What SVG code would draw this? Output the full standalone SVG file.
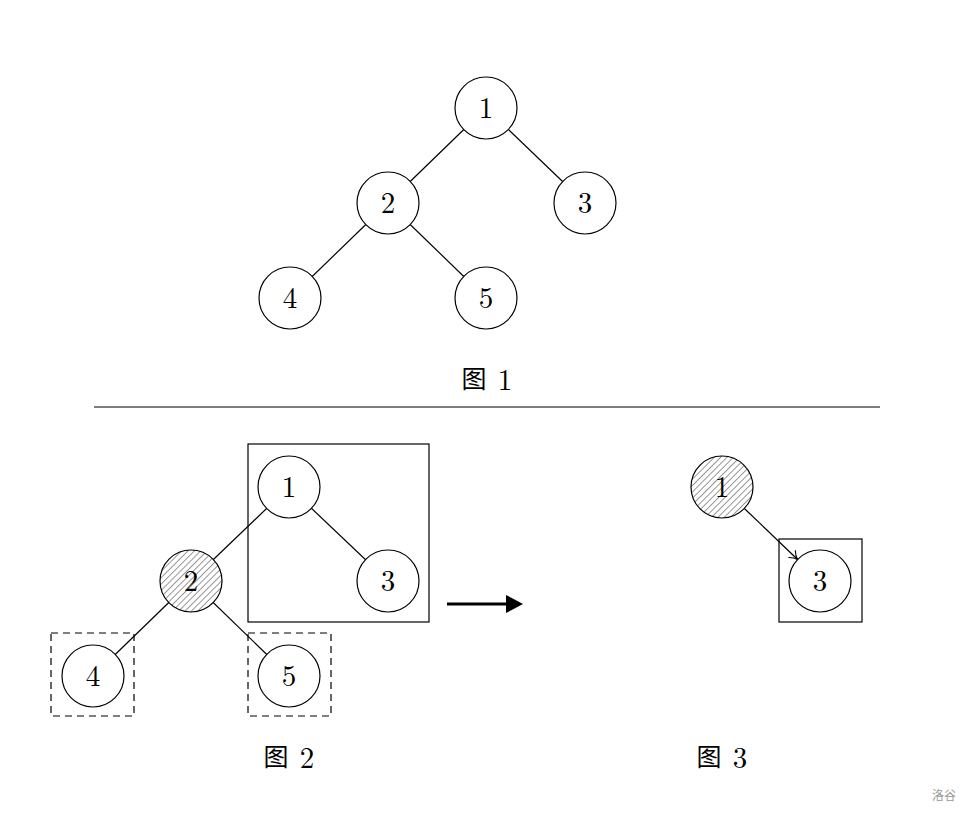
<svg xmlns="http://www.w3.org/2000/svg" width="973" height="816" viewBox="0 0 973 816">
<style>
.n{fill:#fff;stroke:#000;stroke-width:1.2}
.h{fill:url(#hatch);stroke:#000;stroke-width:1.2}
.t{font-family:"Latin Modern Roman","DejaVu Serif","Liberation Serif",serif;font-size:29px;text-anchor:middle;fill:#000}
.c{font-family:"Noto Sans CJK SC",serif;font-size:25px;text-anchor:middle;fill:#000}
.e{stroke:#000;stroke-width:1.2;fill:none}
.box{fill:none;stroke:#000;stroke-width:1.2}
.dash{fill:none;stroke:#000;stroke-width:1.2;stroke-dasharray:7 5}
</style>
<defs>
<pattern id="hatch" patternUnits="userSpaceOnUse" width="4.5" height="4.5" patternTransform="rotate(45)">
<rect width="4.5" height="4.5" fill="#fff"/>
<line x1="0" y1="0" x2="0" y2="4.5" stroke="#333" stroke-width="1"/>
</pattern>
<marker id="open" markerWidth="12" markerHeight="12" refX="10" refY="6" orient="auto" markerUnits="userSpaceOnUse">
<path d="M2,1 Q6,5 10,6 Q6,7 2,11" fill="none" stroke="#000" stroke-width="1.1"/>
</marker>
<marker id="solid" markerWidth="20" markerHeight="20" refX="2" refY="9" orient="auto" markerUnits="userSpaceOnUse">
<path d="M0,0 L17,9 L0,18 Z" fill="#000"/>
</marker>
</defs>
<rect width="973" height="816" fill="#fff"/>
<g id="connectors">
<line class="e" x1="486" y1="108" x2="388" y2="203"/>
<line class="e" x1="486" y1="108" x2="585" y2="203"/>
<line class="e" x1="388" y1="203" x2="290" y2="298"/>
<line class="e" x1="388" y1="203" x2="486" y2="298"/>
<line class="e" x1="289" y1="487" x2="191" y2="581"/>
<line class="e" x1="289" y1="487" x2="388" y2="581"/>
<line class="e" x1="191" y1="581" x2="93" y2="676"/>
<line class="e" x1="191" y1="581" x2="289" y2="676"/>
<line class="e" x1="744.4" y1="508.5" x2="797.6" y2="559.5" marker-end="url(#open)"/>
<line x1="447" y1="604" x2="508" y2="604" stroke="#000" stroke-width="3.2" marker-end="url(#solid)"/>
</g>
<line x1="94" y1="407" x2="880" y2="407" stroke="#000" stroke-width="1.2"/>
<rect class="box" x="248" y="444" width="181" height="178"/>
<rect class="dash" x="51" y="633" width="83" height="83"/>
<rect class="dash" x="248" y="633" width="83" height="83"/>
<rect class="box" x="779" y="539" width="83" height="83"/>
<g id="f1n1"><circle class="n" cx="486" cy="108" r="31"/><text class="t" x="486" y="118">1</text></g>
<g id="f1n2"><circle class="n" cx="388" cy="203" r="31"/><text class="t" x="388" y="213">2</text></g>
<g id="f1n3"><circle class="n" cx="585" cy="203" r="31"/><text class="t" x="585" y="213">3</text></g>
<g id="f1n4"><circle class="n" cx="290" cy="298" r="31"/><text class="t" x="290" y="308">4</text></g>
<g id="f1n5"><circle class="n" cx="486" cy="298" r="31"/><text class="t" x="486" y="308">5</text></g>
<g id="f2n1"><circle class="n" cx="289" cy="487" r="31"/><text class="t" x="289" y="497">1</text></g>
<g id="f2n2"><circle class="h" cx="191" cy="581" r="31"/><text class="t" x="191" y="591">2</text></g>
<g id="f2n3"><circle class="n" cx="388" cy="581" r="31"/><text class="t" x="388" y="591">3</text></g>
<g id="f2n4"><circle class="n" cx="93" cy="676" r="31"/><text class="t" x="93" y="686">4</text></g>
<g id="f2n5"><circle class="n" cx="289" cy="676" r="31"/><text class="t" x="289" y="686">5</text></g>
<g id="f3n1"><circle class="h" cx="722" cy="487" r="31"/><text class="t" x="722" y="497">1</text></g>
<g id="f3n3"><circle class="n" cx="820" cy="581" r="31"/><text class="t" x="820" y="591">3</text></g>
<g id="cap1"><text class="c" x="474" y="388">图</text><text class="t" x="505" y="390">1</text></g>
<g id="cap2"><text class="c" x="276" y="766">图</text><text class="t" x="307" y="768">2</text></g>
<g id="cap3"><text class="c" x="709" y="766">图</text><text class="t" x="740" y="768">3</text></g>
<text x="944" y="800" font-family="'Noto Sans CJK SC',sans-serif" font-size="12" fill="#999" text-anchor="middle">洛谷</text>
</svg>
